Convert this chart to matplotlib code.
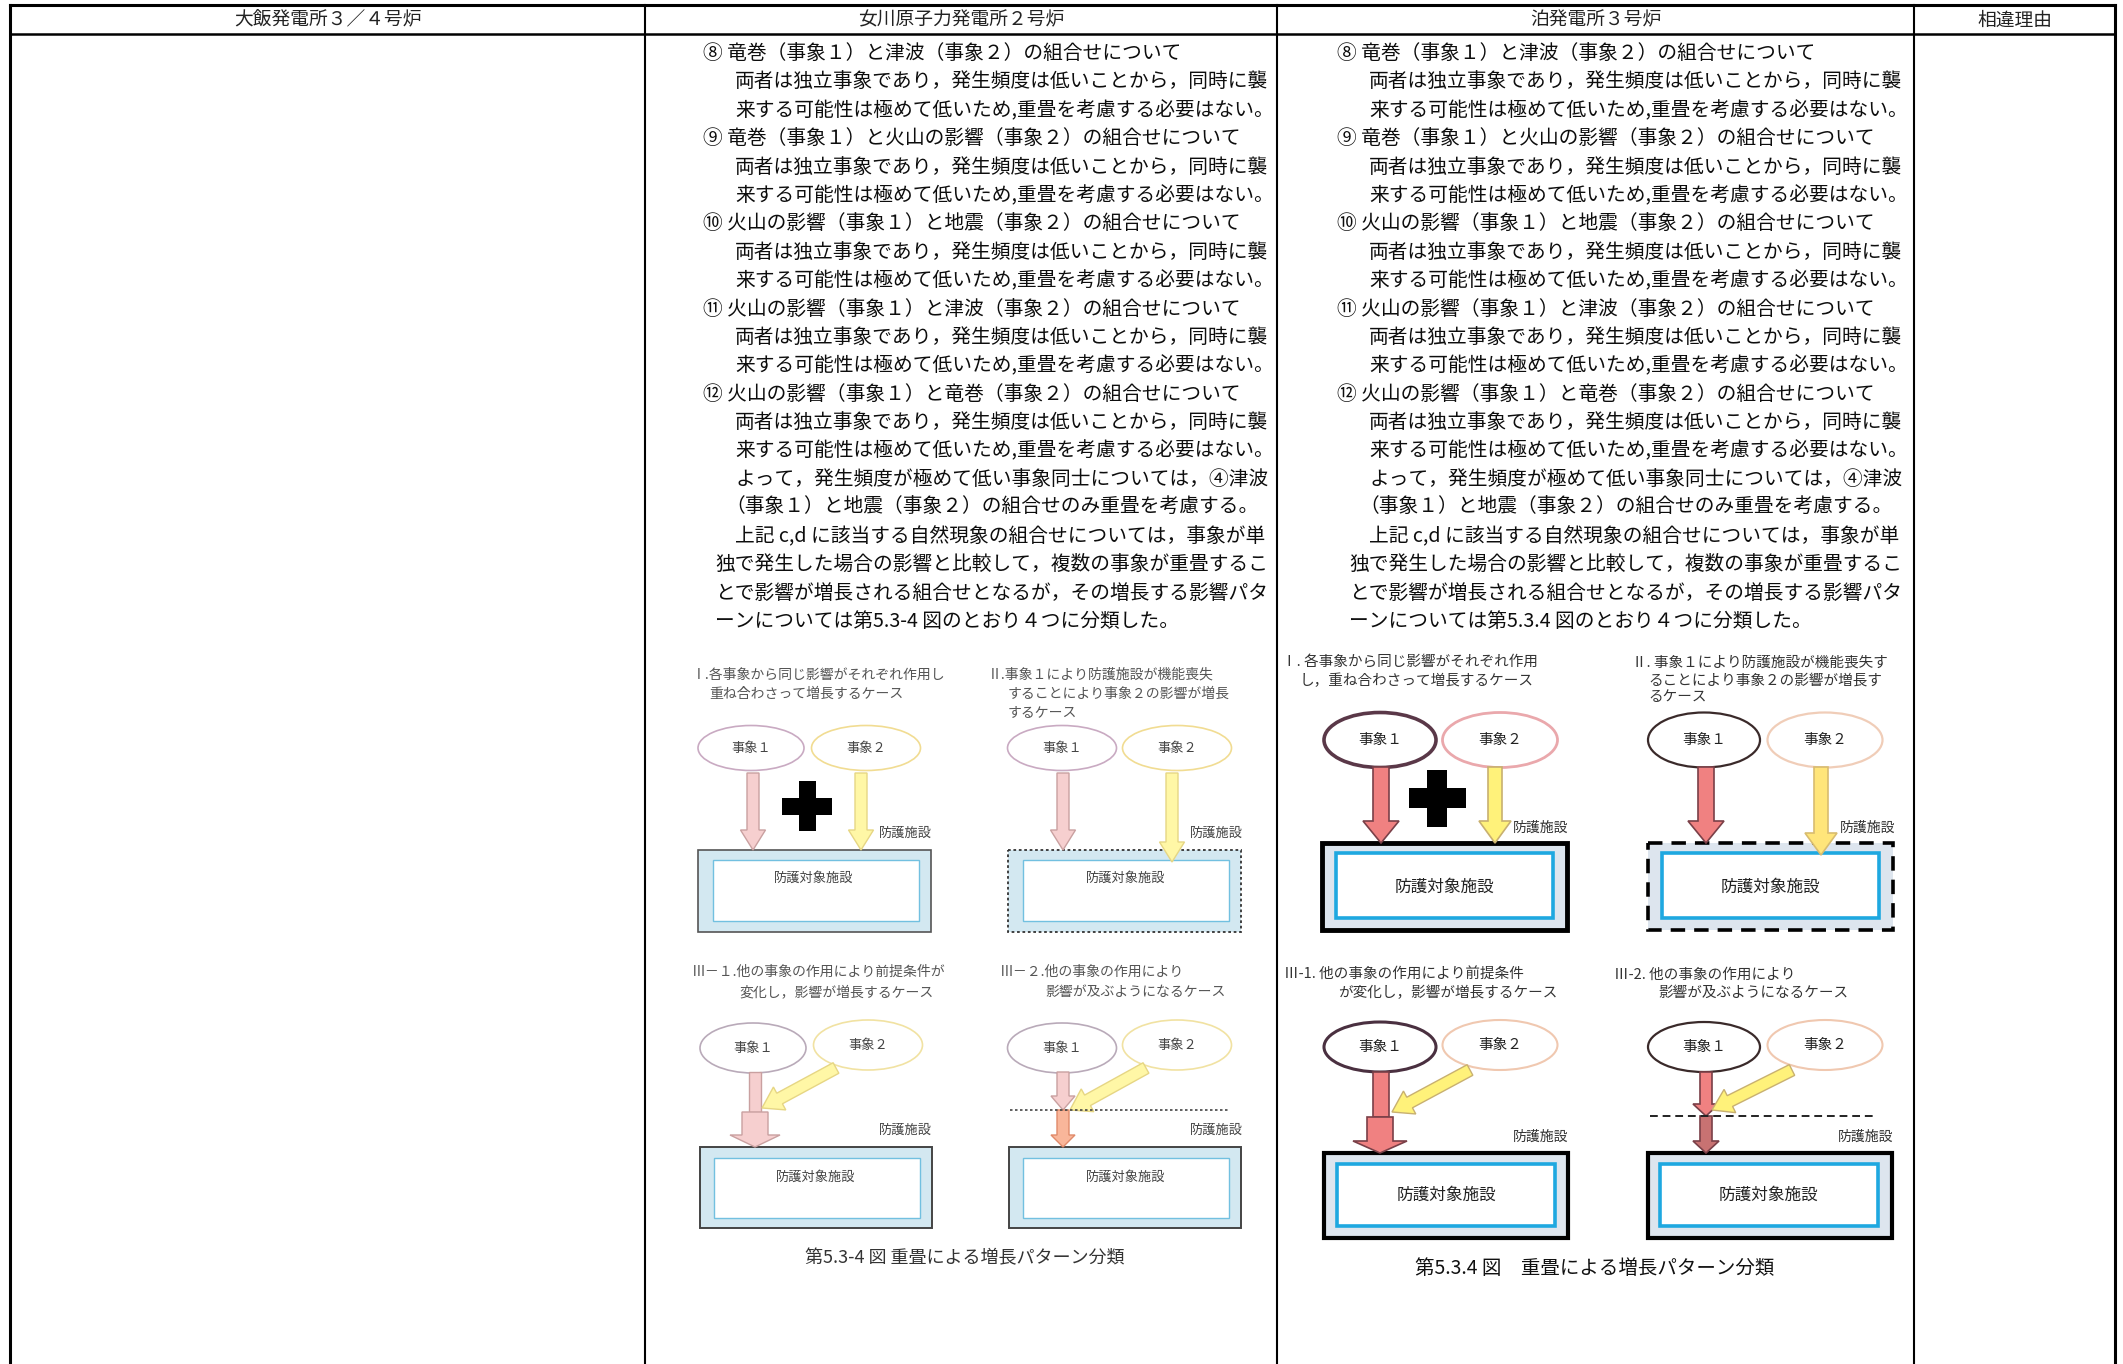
import matplotlib
matplotlib.use('Agg')
import matplotlib.pyplot as plt
from matplotlib.patches import Rectangle, Ellipse, FancyArrow

plt.rcParams['font.family'] = ['Noto Sans CJK JP', 'DejaVu Sans']

# ---------------- content ----------------
headers = ["大飯発電所３／４号炉", "女川原子力発電所２号炉", "泊発電所３号炉", "相違理由"]

body_lines = [
    ("⑧ 竜巻（事象１）と津波（事象２）の組合せについて", "item"),
    ("両者は独立事象であり，発生頻度は低いことから，同時に襲", "body"),
    ("来する可能性は極めて低いため,重畳を考慮する必要はない。", "body"),
    ("⑨ 竜巻（事象１）と火山の影響（事象２）の組合せについて", "item"),
    ("両者は独立事象であり，発生頻度は低いことから，同時に襲", "body"),
    ("来する可能性は極めて低いため,重畳を考慮する必要はない。", "body"),
    ("⑩ 火山の影響（事象１）と地震（事象２）の組合せについて", "item"),
    ("両者は独立事象であり，発生頻度は低いことから，同時に襲", "body"),
    ("来する可能性は極めて低いため,重畳を考慮する必要はない。", "body"),
    ("⑪ 火山の影響（事象１）と津波（事象２）の組合せについて", "item"),
    ("両者は独立事象であり，発生頻度は低いことから，同時に襲", "body"),
    ("来する可能性は極めて低いため,重畳を考慮する必要はない。", "body"),
    ("⑫ 火山の影響（事象１）と竜巻（事象２）の組合せについて", "item"),
    ("両者は独立事象であり，発生頻度は低いことから，同時に襲", "body"),
    ("来する可能性は極めて低いため,重畳を考慮する必要はない。", "body"),
    ("よって，発生頻度が極めて低い事象同士については，④津波", "body"),
    ("（事象１）と地震（事象２）の組合せのみ重畳を考慮する。", "paren"),
    ("上記 c,d に該当する自然現象の組合せについては，事象が単", "body"),
    ("独で発生した場合の影響と比較して，複数の事象が重畳するこ", "flush"),
    ("とで影響が増長される組合せとなるが，その増長する影響パタ", "flush"),
    ("ーンについては第{fig} 図のとおり４つに分類した。", "flush"),
]
fig_numbers = ["5.3-4", "5.3.4"]

titles_onagawa = {
    "I": ["Ⅰ.各事象から同じ影響がそれぞれ作用し", "重ね合わさって増長するケース"],
    "II": ["Ⅱ.事象１により防護施設が機能喪失", "することにより事象２の影響が増長", "するケース"],
    "III1": ["Ⅲ－１.他の事象の作用により前提条件が", "変化し，影響が増長するケース"],
    "III2": ["Ⅲ－２.他の事象の作用により", "影響が及ぶようになるケース"],
}
titles_tomari = {
    "I": ["Ⅰ. 各事象から同じ影響がそれぞれ作用", "し，重ね合わさって増長するケース"],
    "II": ["Ⅱ. 事象１により防護施設が機能喪失す", "ることにより事象２の影響が増長す", "るケース"],
    "III1": ["Ⅲ-1. 他の事象の作用により前提条件", "が変化し，影響が増長するケース"],
    "III2": ["Ⅲ-2. 他の事象の作用により", "影響が及ぶようになるケース"],
}
event_labels = ["事象１", "事象２"]
barrier_label = "防護施設"
target_label = "防護対象施設"
captions = ["第5.3-4 図 重畳による増長パターン分類", "第5.3.4 図　重畳による増長パターン分類"]

# ---------------- figure ----------------
W, H = 2123, 1364
fig = plt.figure(figsize=(W / 100, H / 100), dpi=100)
ax = fig.add_axes([0, 0, 1, 1])
ax.set_xlim(0, W)
ax.set_ylim(H, 0)
ax.axis('off')

# table frame
col_edges = [10, 645, 1277, 1914, 2115]
top, head_bot = 5, 34
ax.plot([col_edges[0], col_edges[-1]], [top, top], color='black', lw=2.2)
ax.plot([col_edges[0], col_edges[-1]], [head_bot, head_bot], color='black', lw=1.8)
for i, x in enumerate(col_edges):
    ax.plot([x, x], [top, H], color='black', lw=2.2 if i in (0, len(col_edges) - 1) else 1.5)
for i, h in enumerate(headers):
    ax.text((col_edges[i] + col_edges[i + 1]) / 2, 20, h, ha='center', va='center',
            fontsize=13.5, color='#222222')

# body text
indent = {"item": 703, "body": 735, "paren": 725, "flush": 715}
col_shift = [0, 634]
for c in range(2):
    for k, (txt, kind) in enumerate(body_lines):
        t = txt.replace("{fig}", fig_numbers[c])
        ax.text(indent[kind] + col_shift[c], 53.5 + 28.4 * k, t, ha='left', va='center',
                fontsize=14.2, color='#0d0d0d')


def arrow(x0, y0, x1, y1, w, hw, hl, fc, ec, lw=1.0, z=5):
    ax.add_patch(FancyArrow(x0, y0, x1 - x0, y1 - y0, width=w, head_width=hw, head_length=hl,
                            length_includes_head=True, fc=fc, ec=ec, lw=lw, zorder=z))


def boxes(x0, y0, x1, y1, ix0, iy0, ix1, iy1, ofc, oec, olw, ols, iec, ilw):
    ax.add_patch(Rectangle((x0, y0), x1 - x0, y1 - y0, fc=ofc, ec=oec, lw=olw, ls=ols, zorder=2))
    ax.add_patch(Rectangle((ix0, iy0), ix1 - ix0, iy1 - iy0, fc='white', ec=iec, lw=ilw, zorder=3))


def ellipse(cx, cy, w, h, ec, lw, label, fs, tc):
    ax.add_patch(Ellipse((cx, cy), w, h, fc='white', ec=ec, lw=lw, zorder=4))
    ax.text(cx, cy, label, ha='center', va='center', fontsize=fs, color=tc, zorder=6)


def plus(cx, cy, arm, th):
    ax.add_patch(Rectangle((cx - th / 2, cy - arm / 2), th, arm, fc='black', ec='none', zorder=5))
    ax.add_patch(Rectangle((cx - arm / 2, cy - th / 2), arm, th, fc='black', ec='none', zorder=5))


def title(lines, xs, ys, fs, color):
    for t, x, y in zip(lines, xs, ys):
        ax.text(x, y, t, ha='left', va='center', fontsize=fs, color=color)


# ---------- Onagawa diagrams (faded style) ----------
g = '#555555'
pk_fc, pk_ec = '#f6cfcf', '#c9a0a0'
ye_fc, ye_ec = '#fff7a6', '#e6d684'
bx_fc = '#d3e8f1'
in_ec = '#72c0e0'
e1c, e2c = '#c9aac2', '#f1dc92'

title(titles_onagawa["I"], [692, 709], [675, 694], 10, g)
ellipse(751, 748, 106, 45, e1c, 1.2, event_labels[0], 9.5, '#444')
ellipse(866, 748, 109, 45, e2c, 1.2, event_labels[1], 9.5, '#444')
boxes(698, 850, 931, 932, 713, 860, 919, 921, bx_fc, '#555555', 1.2, '-', in_ec, 1.0)
arrow(753, 773, 753, 850, 12, 25, 20, pk_fc, pk_ec)
arrow(861, 773, 861, 850, 12, 25, 20, ye_fc, ye_ec)
plus(807, 806, 50, 17)
ax.text(879, 833, barrier_label, ha='left', va='center', fontsize=9.5, color='#444')
ax.text(814, 878, target_label, ha='center', va='center', fontsize=9.5, color='#444', zorder=6)

title(titles_onagawa["II"], [988, 1008, 1008], [675, 694, 712], 10, g)
ellipse(1062, 748, 109, 45, e1c, 1.2, event_labels[0], 9.5, '#444')
ellipse(1177, 748, 109, 45, e2c, 1.2, event_labels[1], 9.5, '#444')
boxes(1008, 850, 1241, 932, 1023, 860, 1229, 921, bx_fc, '#333333', 1.3, (0, (1.5, 1.5)), in_ec, 1.0)
arrow(1063, 773, 1063, 850, 12, 25, 20, pk_fc, pk_ec)
arrow(1172, 773, 1172, 862, 12, 25, 20, ye_fc, ye_ec)
ax.text(1190, 833, barrier_label, ha='left', va='center', fontsize=9.5, color='#444')
ax.text(1126, 878, target_label, ha='center', va='center', fontsize=9.5, color='#444', zorder=6)

title(titles_onagawa["III1"], [692, 739], [972, 992], 10, g)
ellipse(753, 1048, 106, 50, '#b9aab9', 1.2, event_labels[0], 9.5, '#444')
ellipse(868, 1045, 109, 50, '#f1e2a2', 1.2, event_labels[1], 9.5, '#444')
boxes(700, 1147, 932, 1228, 714, 1158, 920, 1218, bx_fc, '#444444', 1.4, '-', in_ec, 1.0)
ax.add_patch(Rectangle((749, 1072), 12, 40, fc=pk_fc, ec=pk_ec, lw=1.0, zorder=5))
arrow(755, 1112, 755, 1147, 26, 50, 12, pk_fc, pk_ec)
arrow(836, 1068, 762, 1108, 12, 26, 20, ye_fc, ye_ec)
ax.text(879, 1130, barrier_label, ha='left', va='center', fontsize=9.5, color='#444')
ax.text(816, 1177, target_label, ha='center', va='center', fontsize=9.5, color='#444', zorder=6)

title(titles_onagawa["III2"], [1000, 1045], [972, 992], 10, g)
ellipse(1062, 1048, 109, 50, '#b9aab9', 1.2, event_labels[0], 9.5, '#444')
ellipse(1177, 1045, 109, 50, '#f1e2a2', 1.2, event_labels[1], 9.5, '#444')
boxes(1009, 1147, 1241, 1228, 1023, 1158, 1229, 1218, bx_fc, '#444444', 1.4, '-', in_ec, 1.0)
arrow(1063, 1072, 1063, 1110, 12, 24, 14, pk_fc, pk_ec)
ax.plot([1010, 1229], [1110, 1110], color='#444444', lw=1.2, ls=(0, (1.5, 1.5)), zorder=6)
arrow(1063, 1110, 1063, 1147, 12, 24, 12, '#f9b69a', '#e08a6a')
arrow(1146, 1068, 1070, 1110, 12, 26, 20, ye_fc, ye_ec)
ax.text(1190, 1130, barrier_label, ha='left', va='center', fontsize=9.5, color='#444')
ax.text(1126, 1177, target_label, ha='center', va='center', fontsize=9.5, color='#444', zorder=6)

ax.text(965, 1258, captions[0], ha='center', va='center', fontsize=13, color='#333333')

# ---------- Tomari diagrams (strong style) ----------
r_fc, r_ec = '#f08181', '#7a4048'
y_fc, y_ec = '#fff27a', '#c8b070'
tb_fc = '#dde5ee'
cy_ec = '#1ea8e0'
tg = '#333333'

title(titles_tomari["I"], [1282, 1300], [663, 681], 10.5, tg)
ellipse(1380, 740, 112, 55, '#5a3848', 2.6, event_labels[0], 10.5, '#222')
ellipse(1500, 740, 115, 55, '#eaa8ac', 2.0, event_labels[1], 10.5, '#222')
boxes(1322, 843, 1567, 930, 1336, 853, 1553, 918, tb_fc, 'black', 3.5, '-', cy_ec, 2.6)
arrow(1381, 767, 1381, 843, 16, 36, 22, r_fc, r_ec, 1.2)
arrow(1495, 767, 1495, 843, 14, 32, 22, y_fc, y_ec, 1.2)
plus(1437, 798, 57, 20)
ax.text(1513, 828, barrier_label, ha='left', va='center', fontsize=10, color='#333')
ax.text(1444, 887, target_label, ha='center', va='center', fontsize=12, color='#222', zorder=6)

title(titles_tomari["II"], [1632, 1648, 1648], [663, 681, 697], 10.5, tg)
ellipse(1704, 740, 112, 55, '#3a2a2a', 1.6, event_labels[0], 10.5, '#222')
ellipse(1825, 740, 115, 55, '#f0cdb8', 1.6, event_labels[1], 10.5, '#222')
boxes(1648, 843, 1893, 930, 1662, 853, 1879, 918, tb_fc, 'black', 2.6, (0, (4, 2.5)), cy_ec, 2.6)
arrow(1706, 767, 1706, 843, 16, 36, 22, r_fc, r_ec, 1.2)
arrow(1821, 767, 1821, 855, 14, 32, 22, '#ffe57a', '#d8bc70', 1.2)
ax.text(1840, 828, barrier_label, ha='left', va='center', fontsize=10, color='#333')
ax.text(1770, 887, target_label, ha='center', va='center', fontsize=12, color='#222', zorder=6)

title(titles_tomari["III1"], [1284, 1338], [975, 993], 10.5, tg)
ellipse(1380, 1047, 112, 50, '#4a3040', 2.2, event_labels[0], 10.5, '#222')
ellipse(1500, 1045, 115, 50, '#f0c8b0', 1.5, event_labels[1], 10.5, '#222')
boxes(1324, 1153, 1568, 1238, 1337, 1164, 1555, 1226, tb_fc, 'black', 3.0, '-', cy_ec, 2.6)
ax.add_patch(Rectangle((1373, 1072), 16, 45, fc=r_fc, ec=r_ec, lw=1.2, zorder=5))
arrow(1380, 1117, 1380, 1153, 26, 54, 12, r_fc, r_ec, 1.2)
arrow(1470, 1070, 1392, 1112, 12, 26, 20, y_fc, y_ec, 1.0)
ax.text(1513, 1137, barrier_label, ha='left', va='center', fontsize=10, color='#333')
ax.text(1446, 1195, target_label, ha='center', va='center', fontsize=12, color='#222', zorder=6)

title(titles_tomari["III2"], [1614, 1658], [975, 993], 10.5, tg)
ellipse(1704, 1047, 112, 50, '#3a2a2a', 1.6, event_labels[0], 10.5, '#222')
ellipse(1825, 1045, 115, 50, '#f0c8b0', 1.5, event_labels[1], 10.5, '#222')
boxes(1648, 1153, 1892, 1238, 1660, 1164, 1878, 1226, tb_fc, 'black', 3.0, '-', cy_ec, 2.6)
arrow(1706, 1072, 1706, 1116, 12, 26, 12, r_fc, r_ec, 1.2)
ax.plot([1650, 1877], [1116, 1116], color='#222222', lw=1.4, ls=(0, (4, 2.5)), zorder=6)
arrow(1706, 1116, 1706, 1153, 12, 26, 12, '#c87272', r_ec, 1.2)
arrow(1792, 1070, 1712, 1110, 12, 26, 20, y_fc, y_ec, 1.0)
ax.text(1838, 1137, barrier_label, ha='left', va='center', fontsize=10, color='#333')
ax.text(1768, 1195, target_label, ha='center', va='center', fontsize=12, color='#222', zorder=6)

ax.text(1595, 1268, captions[1], ha='center', va='center', fontsize=14, color='#111111')

fig.savefig('out.png', dpi=100, facecolor='white')
